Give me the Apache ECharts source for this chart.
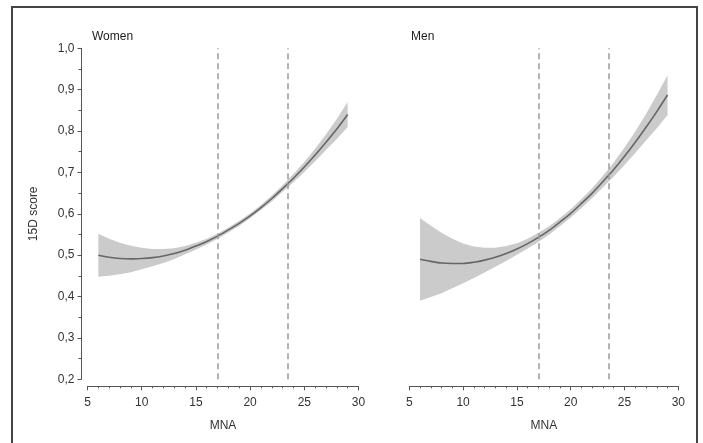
<!DOCTYPE html>
<html>
<head>
<meta charset="utf-8">
<script src="https://cdn.jsdelivr.net/npm/echarts@6/dist/echarts.min.js"></script>
<style>
html,body{margin:0;padding:0;background:#fff;}
#main{width:703px;height:443px;}
</style>
</head>
<body>
<div id="main"></div>
<script>
// ---- data ----
const mna = [6,7,8,9,10,11,12,13,14,15,16,17,18,19,20,21,22,23,24,25,26,27,28,29];
const womenMid  = [0.500,0.495,0.492,0.491,0.492,0.494,0.498,0.504,0.512,0.522,0.533,0.546,0.561,0.577,0.595,0.615,0.637,0.661,0.686,0.713,0.742,0.773,0.805,0.840];
const womenLow  = [0.448,0.450,0.454,0.459,0.466,0.473,0.481,0.491,0.502,0.514,0.526,0.540,0.555,0.571,0.589,0.609,0.630,0.653,0.676,0.701,0.727,0.754,0.781,0.810];
const womenHigh = [0.552,0.540,0.530,0.523,0.518,0.515,0.515,0.517,0.522,0.530,0.540,0.552,0.567,0.583,0.601,0.621,0.644,0.669,0.696,0.725,0.757,0.792,0.829,0.870];
const menMid  = [0.490,0.485,0.481,0.480,0.480,0.483,0.488,0.495,0.504,0.515,0.528,0.543,0.560,0.580,0.601,0.625,0.650,0.678,0.707,0.739,0.773,0.809,0.847,0.887];
const menLow  = [0.390,0.399,0.408,0.420,0.432,0.445,0.458,0.472,0.486,0.501,0.516,0.532,0.550,0.570,0.591,0.614,0.638,0.664,0.690,0.718,0.747,0.777,0.807,0.839];
const menHigh = [0.590,0.571,0.554,0.540,0.528,0.521,0.518,0.518,0.522,0.529,0.540,0.554,0.570,0.590,0.611,0.636,0.662,0.692,0.724,0.760,0.799,0.841,0.887,0.935];
const cutoffs = [17, 23.5];
const panelTitles = ['Women', 'Men'];
const xName = 'MNA';
const yName = '15D score';

// ---- chart ----
const FONT = '"Liberation Sans", Arial, sans-serif';
const chart = echarts.init(document.getElementById('main'), null, {renderer: 'canvas'});

function pairs(xs, ys) { return xs.map((x, i) => [x, ys[i]]); }

function bandSeries(idx, lo, hi) {
  return {
    type: 'custom', xAxisIndex: idx, yAxisIndex: idx, silent: true, z: 2,
    data: mna.map((x, i) => [x, lo[i], hi[i]]),
    encode: {x: 0, y: [1, 2]},
    renderItem: function (params, api) {
      if (params.dataIndex !== 0) return null;
      const upper = mna.map((x, i) => api.coord([x, hi[i]]));
      const lower = mna.map((x, i) => api.coord([x, lo[i]])).reverse();
      return {
        type: 'polygon',
        shape: {points: upper.concat(lower)},
        style: {fill: '#cbcbcb', stroke: null}
      };
    }
  };
}

function panelSeries(idx, mid, lo, hi) {
  return [
    bandSeries(idx, lo, hi),
    {
      type: 'line', xAxisIndex: idx, yAxisIndex: idx,
      data: pairs(mna, mid), symbol: 'none', smooth: 0.3,
      lineStyle: {color: '#666', width: 1.6}, z: 4,
      markLine: {
        silent: true, symbol: 'none', label: {show: false},
        lineStyle: {color: '#9a9a9a', type: [6, 4], width: 1.5},
        data: cutoffs.map(c => ({xAxis: c}))
      }
    }
  ];
}

const xAxisCommon = {
  type: 'value', min: 5, max: 30, interval: 5, offset: 7,
  splitLine: {show: false},
  axisLine: {lineStyle: {color: '#555', width: 1}},
  axisTick: {length: 4, lineStyle: {color: '#555'}},
  minorTick: {show: true, splitNumber: 5, length: 2, lineStyle: {color: '#555'}},
  axisLabel: {color: '#333', fontSize: 12, fontFamily: FONT, margin: 10},
  name: xName, nameLocation: 'middle', nameGap: 33,
  nameTextStyle: {color: '#333', fontSize: 12, fontFamily: FONT}
};

const option = {
  backgroundColor: '#ffffff',
  animation: false,
  title: [
    {text: panelTitles[0], left: 87, top: 26, textStyle: {fontSize: 12, fontWeight: 'normal', color: '#222', fontFamily: FONT}},
    {text: panelTitles[1], left: 406, top: 26, textStyle: {fontSize: 12, fontWeight: 'normal', color: '#222', fontFamily: FONT}}
  ],
  grid: [
    {left: 87.5, width: 271, top: 48.3, height: 331},
    {left: 409.3, width: 269, top: 48.3, height: 331}
  ],
  xAxis: [
    Object.assign({gridIndex: 0}, xAxisCommon),
    Object.assign({gridIndex: 1}, xAxisCommon)
  ],
  yAxis: [
    {
      gridIndex: 0, type: 'value', min: 0.2, max: 1.0, interval: 0.1, offset: 6,
      splitLine: {show: false},
      axisLine: {show: true, lineStyle: {color: '#555', width: 1}},
      axisTick: {show: true, length: 4, lineStyle: {color: '#555'}},
      minorTick: {show: true, splitNumber: 2, length: 3, lineStyle: {color: '#555'}},
      axisLabel: {color: '#333', fontSize: 12, fontFamily: FONT, margin: 7,
        formatter: v => v.toFixed(1).replace('.', ',')},
      name: yName, nameLocation: 'middle', nameGap: 42, nameRotate: 90,
      nameTextStyle: {color: '#333', fontSize: 12, fontFamily: FONT}
    },
    {
      gridIndex: 1, type: 'value', min: 0.2, max: 1.0, interval: 0.1, show: false,
      splitLine: {show: false}
    }
  ],
  graphic: [
    {type: 'rect', silent: true, z: 100,
     shape: {x: 12, y: 7, width: 685, height: 460},
     style: {fill: null, stroke: '#444', lineWidth: 2}}
  ],
  series: [].concat(
    panelSeries(0, womenMid, womenLow, womenHigh),
    panelSeries(1, menMid, menLow, menHigh)
  )
};
chart.setOption(option);
</script>
</body>
</html>
